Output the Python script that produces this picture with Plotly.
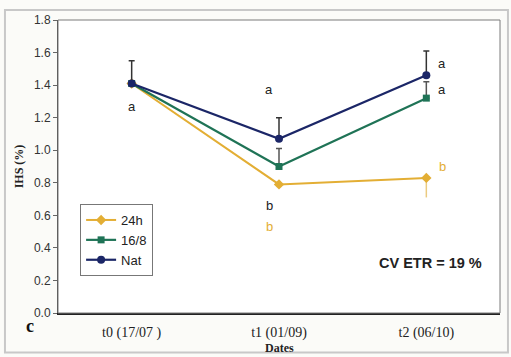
import plotly.graph_objects as go

categories = ["t0 (17/07 )", "t1 (01/09)", "t2 (06/10)"]
series_names = ["24h", "16/8", "Nat"]
vals_24h = [1.41, 0.79, 0.83]
vals_168 = [1.41, 0.90, 1.32]
vals_nat = [1.41, 1.07, 1.46]
err_plus_24h = [0.0, 0.0, 0.0]
err_minus_24h = [0.0, 0.0, 0.12]
err_plus_168 = [0.0, 0.11, 0.10]
err_plus_nat = [0.14, 0.13, 0.15]

# significance letters
letters_cat = ["t0 (17/07 )", "t1 (01/09)", "t1 (01/09)", "t1 (01/09)", "t2 (06/10)", "t2 (06/10)", "t2 (06/10)"]
letters_y = [1.27, 1.37, 0.66, 0.53, 1.53, 1.37, 0.90]
letters_txt = ["a", "a", "b", "b", "a", "a", "b"]
letters_col = ["dark", "dark", "dark", "gold", "dark", "dark", "gold"]

GOLD = "#E3AE34"
GREEN = "#1F7356"
NAVY = "#1B2667"
DARK = "#222222"

fig = go.Figure()
fig.add_trace(go.Scatter(
    x=categories, y=vals_24h, name="24h", mode="lines+markers",
    line=dict(color=GOLD, width=2), marker=dict(symbol="diamond", size=8, color=GOLD),
    error_y=dict(type="data", symmetric=False, array=err_plus_24h, arrayminus=err_minus_24h,
                 color="#EBCB80", thickness=1.5, width=0),
))
fig.add_trace(go.Scatter(
    x=categories, y=vals_168, name="16/8", mode="lines+markers",
    line=dict(color=GREEN, width=2.2), marker=dict(symbol="square", size=7, color=GREEN),
    error_y=dict(type="data", symmetric=False, array=err_plus_168, arrayminus=[0, 0, 0],
                 color="#555555", thickness=1.5, width=3),
))
fig.add_trace(go.Scatter(
    x=categories, y=vals_nat, name="Nat", mode="lines+markers",
    line=dict(color=NAVY, width=2.2), marker=dict(symbol="circle", size=8, color=NAVY),
    error_y=dict(type="data", symmetric=False, array=err_plus_nat, arrayminus=[0, 0, 0],
                 color="#333333", thickness=1.5, width=3),
))

for c, y, t, k in zip(letters_cat, letters_y, letters_txt, letters_col):
    xoff = 0 if c == categories[0] else (-10 if c == categories[1] else 16)
    fig.add_annotation(x=c, y=y, text=t, showarrow=False, xshift=xoff,
                       font=dict(family="Arial, Liberation Sans", size=13,
                                 color=(DARK if k == "dark" else GOLD)))

fig.add_annotation(xref="paper", yref="paper", x=0.963, y=0.138, xanchor="right",
                   text="<b>CV ETR = 19 %</b>", showarrow=False,
                   font=dict(family="Arial, Liberation Sans", size=14.5, color="#222222"))
fig.add_annotation(xref="paper", yref="paper", x=0.5, y=-0.118, yanchor="middle",
                   text="<b>Dates</b>", showarrow=False,
                   font=dict(family="Liberation Serif, Times New Roman", size=12, color="#222222"))
fig.add_annotation(xref="paper", yref="paper", x=-0.063, y=-0.045, xanchor="center", yanchor="middle",
                   text="<b>c</b>", showarrow=False,
                   font=dict(family="Liberation Serif, Times New Roman", size=18, color="#111111"))

# outer frame
fig.add_shape(type="rect", xref="paper", yref="paper", x0=-0.12, x1=1.018, y0=-0.135, y1=1.034,
              line=dict(color="#C8C8C8", width=2), layer="below")
# plot-area frame
fig.add_shape(type="rect", xref="paper", yref="paper", x0=0, x1=1, y0=0, y1=1,
              line=dict(color="#7A7A7A", width=1))

fig.update_layout(
    width=511, height=357,
    margin=dict(l=58, r=11, t=20, b=44),
    paper_bgcolor="#FBFBF8", plot_bgcolor="#FFFFFF",
    showlegend=True,
    legend=dict(x=0.05, y=0.372, xanchor="left", yanchor="top",
                bgcolor="#FFFFFF", bordercolor="#777777", borderwidth=1,
                font=dict(family="Arial, Liberation Sans", size=13, color="#222222"),
                itemwidth=30),
    xaxis=dict(type="category", range=[-0.5, 2.5], showgrid=False,
               showline=True, linecolor="#222222", linewidth=1.5,
               ticks="", ticklabelstandoff=5,
               tickfont=dict(family="Liberation Serif, Times New Roman", size=14, color="#222222")),
    yaxis=dict(range=[0, 1.8], dtick=0.2, tickformat=".1f", showgrid=False,
               showline=True, linecolor="#444444", linewidth=1, ticks="outside", ticklen=4,
               tickcolor="#666666",
               tickfont=dict(family="Arial, Liberation Sans", size=12, color="#333333"),
               title=dict(text="<b>IHS (%)</b>", standoff=7,
                          font=dict(family="Liberation Serif, Times New Roman", size=12, color="#222222"))),
)

fig.write_html("out.html", config={"displayModeBar": False},
               post_script="document.body.style.margin='0';")
